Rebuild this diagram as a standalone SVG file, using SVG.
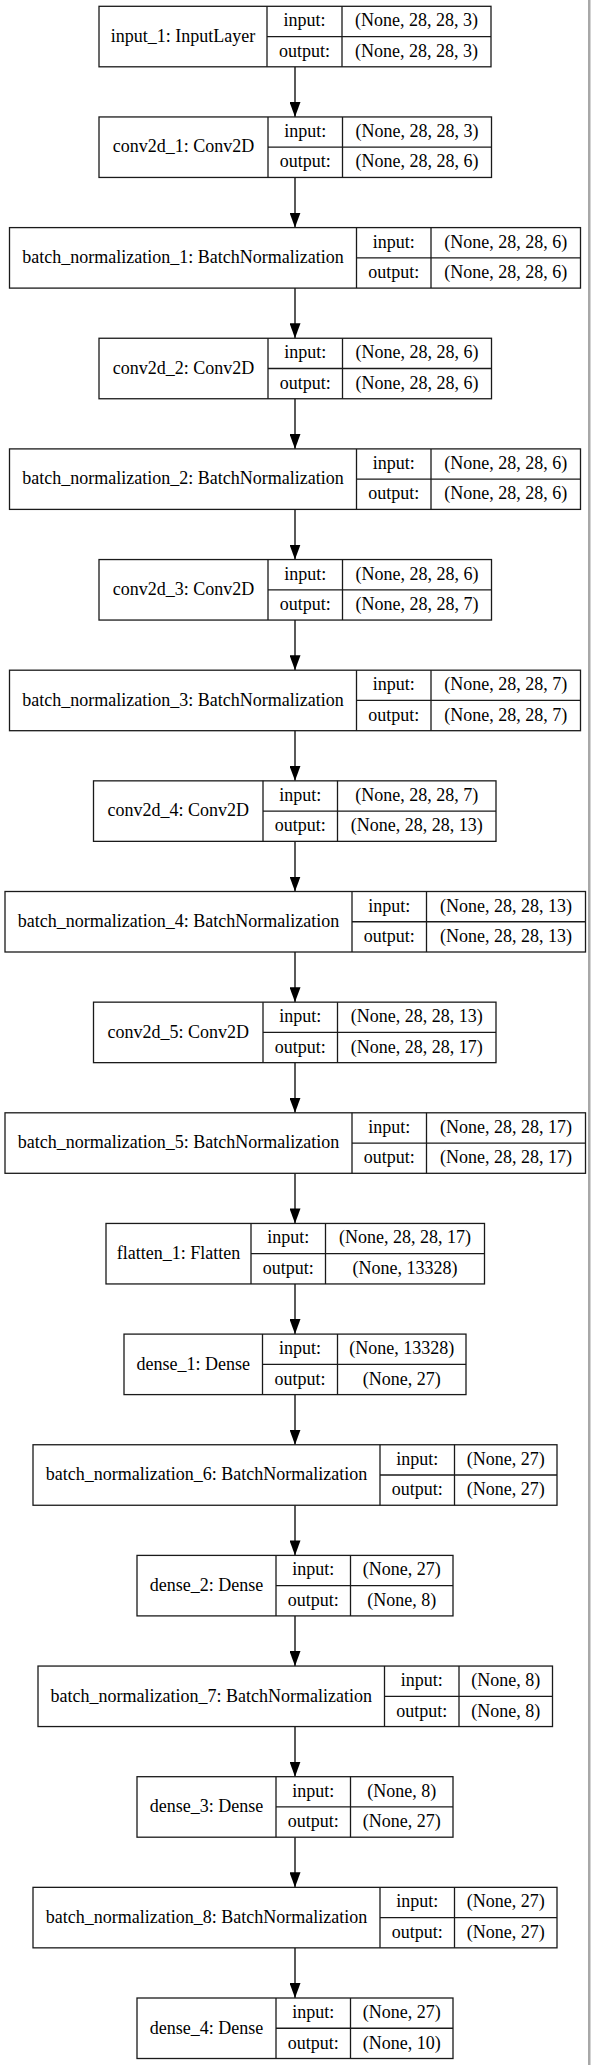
<svg xmlns="http://www.w3.org/2000/svg" width="591" height="2065" viewBox="0 0 591 2065">
<style>
.b{fill:#fff;stroke:#1a1a1a;stroke-width:1.3}
.s{stroke:#1a1a1a;stroke-width:1.3;fill:none}
text{font-family:"Liberation Serif","Times New Roman",serif;font-size:18px;fill:#000;text-anchor:middle}
.e{stroke:#000;stroke-width:1.3;fill:none}
</style>
<defs>
<marker id="ah" markerUnits="userSpaceOnUse" viewBox="0 0 15 11" refX="15" refY="5.5" markerWidth="15" markerHeight="11" orient="auto">
<path d="M0,0 L15,5.5 L0,11 Z" fill="#000"/>
</marker>
</defs>
<rect width="591" height="2065" fill="#fff"/>
<rect x="588" y="0" width="2.5" height="2065" fill="#a8a8a8"/>
<g id="connectors">
<line class="e" x1="295" y1="66.8" x2="295" y2="116.95" marker-end="url(#ah)"/>
<line class="e" x1="295" y1="177.45" x2="295" y2="227.6" marker-end="url(#ah)"/>
<line class="e" x1="295" y1="288.1" x2="295" y2="338.25" marker-end="url(#ah)"/>
<line class="e" x1="295" y1="398.75" x2="295" y2="448.9" marker-end="url(#ah)"/>
<line class="e" x1="295" y1="509.4" x2="295" y2="559.55" marker-end="url(#ah)"/>
<line class="e" x1="295" y1="620.05" x2="295" y2="670.2" marker-end="url(#ah)"/>
<line class="e" x1="295" y1="730.7" x2="295" y2="780.85" marker-end="url(#ah)"/>
<line class="e" x1="295" y1="841.35" x2="295" y2="891.5" marker-end="url(#ah)"/>
<line class="e" x1="295" y1="952" x2="295" y2="1002.15" marker-end="url(#ah)"/>
<line class="e" x1="295" y1="1062.65" x2="295" y2="1112.8" marker-end="url(#ah)"/>
<line class="e" x1="295" y1="1173.3" x2="295" y2="1223.45" marker-end="url(#ah)"/>
<line class="e" x1="295" y1="1283.95" x2="295" y2="1334.1" marker-end="url(#ah)"/>
<line class="e" x1="295" y1="1394.6" x2="295" y2="1444.75" marker-end="url(#ah)"/>
<line class="e" x1="295" y1="1505.25" x2="295" y2="1555.4" marker-end="url(#ah)"/>
<line class="e" x1="295" y1="1615.9" x2="295" y2="1666.05" marker-end="url(#ah)"/>
<line class="e" x1="295" y1="1726.55" x2="295" y2="1776.7" marker-end="url(#ah)"/>
<line class="e" x1="295" y1="1837.2" x2="295" y2="1887.35" marker-end="url(#ah)"/>
<line class="e" x1="295" y1="1947.85" x2="295" y2="1998" marker-end="url(#ah)"/>
</g>

<g id="input_1" transform="translate(0,6.3)">
<rect class="b" x="99" y="0" width="392" height="60.5"/>
<path class="s" d="M267,0V60.5M342,0V60.5M267,30.25H491"/>
<text x="183" y="35.5">input_1: InputLayer</text>
<text x="304.5" y="20">input:</text><text x="416.5" y="20">(None, 28, 28, 3)</text>
<text x="304.5" y="50.5">output:</text><text x="416.5" y="50.5">(None, 28, 28, 3)</text>
</g>

<g id="conv2d_1" transform="translate(0,116.95)">
<rect class="b" x="99" y="0" width="392.5" height="60.5"/>
<path class="s" d="M268,0V60.5M342.5,0V60.5M268,30.25H491.5"/>
<text x="183.5" y="35.5">conv2d_1: Conv2D</text>
<text x="305.25" y="20">input:</text><text x="417" y="20">(None, 28, 28, 3)</text>
<text x="305.25" y="50.5">output:</text><text x="417" y="50.5">(None, 28, 28, 6)</text>
</g>

<g id="batch_normalization_1" transform="translate(0,227.6)">
<rect class="b" x="9.5" y="0" width="571" height="60.5"/>
<path class="s" d="M356.5,0V60.5M431,0V60.5M356.5,30.25H580.5"/>
<text x="183" y="35.5">batch_normalization_1: BatchNormalization</text>
<text x="393.75" y="20">input:</text><text x="505.75" y="20">(None, 28, 28, 6)</text>
<text x="393.75" y="50.5">output:</text><text x="505.75" y="50.5">(None, 28, 28, 6)</text>
</g>

<g id="conv2d_2" transform="translate(0,338.25)">
<rect class="b" x="99" y="0" width="392.5" height="60.5"/>
<path class="s" d="M268,0V60.5M342.5,0V60.5M268,30.25H491.5"/>
<text x="183.5" y="35.5">conv2d_2: Conv2D</text>
<text x="305.25" y="20">input:</text><text x="417" y="20">(None, 28, 28, 6)</text>
<text x="305.25" y="50.5">output:</text><text x="417" y="50.5">(None, 28, 28, 6)</text>
</g>

<g id="batch_normalization_2" transform="translate(0,448.9)">
<rect class="b" x="9.5" y="0" width="571" height="60.5"/>
<path class="s" d="M356.5,0V60.5M431,0V60.5M356.5,30.25H580.5"/>
<text x="183" y="35.5">batch_normalization_2: BatchNormalization</text>
<text x="393.75" y="20">input:</text><text x="505.75" y="20">(None, 28, 28, 6)</text>
<text x="393.75" y="50.5">output:</text><text x="505.75" y="50.5">(None, 28, 28, 6)</text>
</g>

<g id="conv2d_3" transform="translate(0,559.55)">
<rect class="b" x="99" y="0" width="392.5" height="60.5"/>
<path class="s" d="M268,0V60.5M342.5,0V60.5M268,30.25H491.5"/>
<text x="183.5" y="35.5">conv2d_3: Conv2D</text>
<text x="305.25" y="20">input:</text><text x="417" y="20">(None, 28, 28, 6)</text>
<text x="305.25" y="50.5">output:</text><text x="417" y="50.5">(None, 28, 28, 7)</text>
</g>

<g id="batch_normalization_3" transform="translate(0,670.2)">
<rect class="b" x="9.5" y="0" width="571" height="60.5"/>
<path class="s" d="M356.5,0V60.5M431,0V60.5M356.5,30.25H580.5"/>
<text x="183" y="35.5">batch_normalization_3: BatchNormalization</text>
<text x="393.75" y="20">input:</text><text x="505.75" y="20">(None, 28, 28, 7)</text>
<text x="393.75" y="50.5">output:</text><text x="505.75" y="50.5">(None, 28, 28, 7)</text>
</g>

<g id="conv2d_4" transform="translate(0,780.85)">
<rect class="b" x="93.5" y="0" width="402.5" height="60.5"/>
<path class="s" d="M263,0V60.5M337.5,0V60.5M263,30.25H496"/>
<text x="178.25" y="35.5">conv2d_4: Conv2D</text>
<text x="300.25" y="20">input:</text><text x="416.75" y="20">(None, 28, 28, 7)</text>
<text x="300.25" y="50.5">output:</text><text x="416.75" y="50.5">(None, 28, 28, 13)</text>
</g>

<g id="batch_normalization_4" transform="translate(0,891.5)">
<rect class="b" x="5" y="0" width="580.5" height="60.5"/>
<path class="s" d="M352,0V60.5M426.5,0V60.5M352,30.25H585.5"/>
<text x="178.5" y="35.5">batch_normalization_4: BatchNormalization</text>
<text x="389.25" y="20">input:</text><text x="506" y="20">(None, 28, 28, 13)</text>
<text x="389.25" y="50.5">output:</text><text x="506" y="50.5">(None, 28, 28, 13)</text>
</g>

<g id="conv2d_5" transform="translate(0,1002.15)">
<rect class="b" x="93.5" y="0" width="402.5" height="60.5"/>
<path class="s" d="M263,0V60.5M337.5,0V60.5M263,30.25H496"/>
<text x="178.25" y="35.5">conv2d_5: Conv2D</text>
<text x="300.25" y="20">input:</text><text x="416.75" y="20">(None, 28, 28, 13)</text>
<text x="300.25" y="50.5">output:</text><text x="416.75" y="50.5">(None, 28, 28, 17)</text>
</g>

<g id="batch_normalization_5" transform="translate(0,1112.8)">
<rect class="b" x="5" y="0" width="580.5" height="60.5"/>
<path class="s" d="M352,0V60.5M426.5,0V60.5M352,30.25H585.5"/>
<text x="178.5" y="35.5">batch_normalization_5: BatchNormalization</text>
<text x="389.25" y="20">input:</text><text x="506" y="20">(None, 28, 28, 17)</text>
<text x="389.25" y="50.5">output:</text><text x="506" y="50.5">(None, 28, 28, 17)</text>
</g>

<g id="flatten_1" transform="translate(0,1223.45)">
<rect class="b" x="106" y="0" width="378.5" height="60.5"/>
<path class="s" d="M251,0V60.5M325.5,0V60.5M251,30.25H484.5"/>
<text x="178.5" y="35.5">flatten_1: Flatten</text>
<text x="288.25" y="20">input:</text><text x="405" y="20">(None, 28, 28, 17)</text>
<text x="288.25" y="50.5">output:</text><text x="405" y="50.5">(None, 13328)</text>
</g>

<g id="dense_1" transform="translate(0,1334.1)">
<rect class="b" x="124" y="0" width="342" height="60.5"/>
<path class="s" d="M262.5,0V60.5M337.5,0V60.5M262.5,30.25H466"/>
<text x="193.25" y="35.5">dense_1: Dense</text>
<text x="300" y="20">input:</text><text x="401.75" y="20">(None, 13328)</text>
<text x="300" y="50.5">output:</text><text x="401.75" y="50.5">(None, 27)</text>
</g>

<g id="batch_normalization_6" transform="translate(0,1444.75)">
<rect class="b" x="33" y="0" width="524" height="60.5"/>
<path class="s" d="M380,0V60.5M454.5,0V60.5M380,30.25H557"/>
<text x="206.5" y="35.5">batch_normalization_6: BatchNormalization</text>
<text x="417.25" y="20">input:</text><text x="505.75" y="20">(None, 27)</text>
<text x="417.25" y="50.5">output:</text><text x="505.75" y="50.5">(None, 27)</text>
</g>

<g id="dense_2" transform="translate(0,1555.4)">
<rect class="b" x="137" y="0" width="316" height="60.5"/>
<path class="s" d="M276,0V60.5M350.5,0V60.5M276,30.25H453"/>
<text x="206.5" y="35.5">dense_2: Dense</text>
<text x="313.25" y="20">input:</text><text x="401.75" y="20">(None, 27)</text>
<text x="313.25" y="50.5">output:</text><text x="401.75" y="50.5">(None, 8)</text>
</g>

<g id="batch_normalization_7" transform="translate(0,1666.05)">
<rect class="b" x="38" y="0" width="514.5" height="60.5"/>
<path class="s" d="M384.5,0V60.5M459,0V60.5M384.5,30.25H552.5"/>
<text x="211.25" y="35.5">batch_normalization_7: BatchNormalization</text>
<text x="421.75" y="20">input:</text><text x="505.75" y="20">(None, 8)</text>
<text x="421.75" y="50.5">output:</text><text x="505.75" y="50.5">(None, 8)</text>
</g>

<g id="dense_3" transform="translate(0,1776.7)">
<rect class="b" x="137" y="0" width="316" height="60.5"/>
<path class="s" d="M276,0V60.5M350.5,0V60.5M276,30.25H453"/>
<text x="206.5" y="35.5">dense_3: Dense</text>
<text x="313.25" y="20">input:</text><text x="401.75" y="20">(None, 8)</text>
<text x="313.25" y="50.5">output:</text><text x="401.75" y="50.5">(None, 27)</text>
</g>

<g id="batch_normalization_8" transform="translate(0,1887.35)">
<rect class="b" x="33" y="0" width="524" height="60.5"/>
<path class="s" d="M380,0V60.5M454.5,0V60.5M380,30.25H557"/>
<text x="206.5" y="35.5">batch_normalization_8: BatchNormalization</text>
<text x="417.25" y="20">input:</text><text x="505.75" y="20">(None, 27)</text>
<text x="417.25" y="50.5">output:</text><text x="505.75" y="50.5">(None, 27)</text>
</g>

<g id="dense_4" transform="translate(0,1998)">
<rect class="b" x="137" y="0" width="316" height="60.5"/>
<path class="s" d="M276,0V60.5M350.5,0V60.5M276,30.25H453"/>
<text x="206.5" y="35.5">dense_4: Dense</text>
<text x="313.25" y="20">input:</text><text x="401.75" y="20">(None, 27)</text>
<text x="313.25" y="50.5">output:</text><text x="401.75" y="50.5">(None, 10)</text>
</g>
</svg>
